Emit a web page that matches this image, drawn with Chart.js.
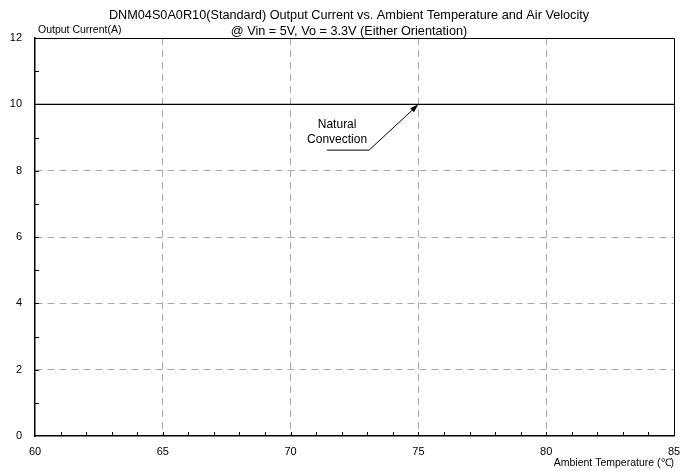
<!DOCTYPE html>
<html>
<head>
<meta charset="utf-8">
<script src="https://cdn.jsdelivr.net/npm/chart.js@4"></script>
<style>
  html, body { margin: 0; padding: 0; background: #fff; }
  #wrap { width: 681px; height: 471px; }
</style>
</head>
<body>
<div id="wrap"><canvas id="derating"></canvas></div>
<script>
const titleLines = ['DNM04S0A0R10(Standard) Output Current vs. Ambient Temperature and Air Velocity',
                    '@ Vin = 5V, Vo = 3.3V (Either Orientation)'];
const temps = [60, 85];
const naturalConvection = [10, 10];
const xTicks = [60, 65, 70, 75, 80, 85];
const yTicks = [0, 2, 4, 6, 8, 10, 12];
const arrowTip = { x: 75, y: 10 };

const FONT = '"Liberation Sans", Arial, sans-serif';

const extras = {
  id: 'extras',
  afterDraw(chart) {
    const { ctx, chartArea: a, scales: { x, y } } = chart;
    ctx.save();
    // top and right frame
    ctx.strokeStyle = '#000';
    ctx.lineWidth = 1;
    ctx.beginPath();
    ctx.moveTo(a.left, a.top + 0.5); ctx.lineTo(a.right + 0.5, a.top + 0.5);
    ctx.lineTo(a.right + 0.5, a.bottom);
    ctx.stroke();
    // minor ticks
    ctx.beginPath();
    for (let v = 61; v < 85; v++) {
      const px = Math.round(x.getPixelForValue(v)) + 0.5;
      ctx.moveTo(px, a.bottom); ctx.lineTo(px, a.bottom - 4);
    }
    for (let v = 1; v < 12; v++) {
      const py = Math.round(y.getPixelForValue(v)) + 0.5;
      ctx.moveTo(a.left, py); ctx.lineTo(a.left + 4, py);
    }
    ctx.stroke();

    // titles
    ctx.fillStyle = '#000';
    ctx.font = '12.7px ' + FONT;
    ctx.textAlign = 'center';
    ctx.textBaseline = 'alphabetic';
    ctx.fillText(titleLines[0], 349, 19);
    ctx.fillText(titleLines[1], 349, 35);
    ctx.font = '10.5px ' + FONT;
    ctx.textAlign = 'left';
    ctx.fillText('Output Current(A)', 38, 33);
    ctx.textAlign = 'right';
    ctx.fillText('Ambient Temperature (\u2103)', a.right, 466);

    // annotation
    const tx = x.getPixelForValue(arrowTip.x), ty = y.getPixelForValue(arrowTip.y);
    const ux0 = x.getPixelForValue(71.42), ux1 = x.getPixelForValue(73.07);
    const uy = y.getPixelForValue(8.62);
    ctx.lineWidth = 1;
    ctx.beginPath();
    ctx.moveTo(ux0, uy); ctx.lineTo(ux1, uy); ctx.lineTo(tx - 2, ty + 2);
    ctx.stroke();
    const ang = Math.atan2(ty - uy, tx - ux1);
    ctx.beginPath();
    ctx.moveTo(tx, ty);
    ctx.lineTo(tx - 9 * Math.cos(ang - 0.3), ty - 9 * Math.sin(ang - 0.3));
    ctx.lineTo(tx - 9 * Math.cos(ang + 0.3), ty - 9 * Math.sin(ang + 0.3));
    ctx.closePath();
    ctx.fill();
    ctx.font = '12px ' + FONT;
    ctx.textAlign = 'center';
    const cx = x.getPixelForValue(71.82);
    ctx.fillText('Natural', cx, y.getPixelForValue(9.28));
    ctx.fillText('Convection', cx, y.getPixelForValue(8.83));
    ctx.restore();
  }
};

const gridColor = (lo, hi) => c => {
  const v = c.tick && c.tick.value;
  return (v === lo || v === hi) ? 'rgba(0,0,0,0)' : '#aaaaaa';
};

new Chart(document.getElementById('derating'), {
  type: 'line',
  data: {
    datasets: [{
      label: 'Natural Convection',
      data: temps.map((t, i) => ({ x: t, y: naturalConvection[i] })),
      borderColor: '#000',
      borderWidth: 1.3,
      pointRadius: 0,
      tension: 0
    }]
  },
  options: {
    responsive: true,
    maintainAspectRatio: false,
    animation: false,
    layout: { padding: { left: 0, top: 38, right: 7, bottom: 0 } },
    plugins: { legend: { display: false }, tooltip: { enabled: false } },
    scales: {
      x: {
        type: 'linear', min: 60, max: 85,
        afterBuildTicks: s => { s.ticks = xTicks.map(v => ({ value: v })); },
        afterFit: s => { s.height = 35; s.paddingLeft = 0; s.paddingRight = 0; },
        grid: { color: gridColor(60, 85), lineWidth: 1, drawTicks: false },
        border: { display: true, color: '#000', width: 1.5, dash: [7, 5] },
        ticks: { color: '#000', padding: 9, maxRotation: 0, font: { family: FONT, size: 11 } }
      },
      y: {
        min: 0, max: 12,
        afterBuildTicks: s => { s.ticks = yTicks.map(v => ({ value: v })); },
        afterFit: s => { s.width = 35; s.paddingTop = 0; s.paddingBottom = 0; },
        grid: { color: gridColor(0, 12), lineWidth: 1, drawTicks: false },
        border: { display: true, color: '#000', width: 1.5, dash: [7, 5] },
        ticks: { color: '#000', padding: 13, font: { family: FONT, size: 11 } }
      }
    }
  },
  plugins: [extras]
});
</script>
</body>
</html>
